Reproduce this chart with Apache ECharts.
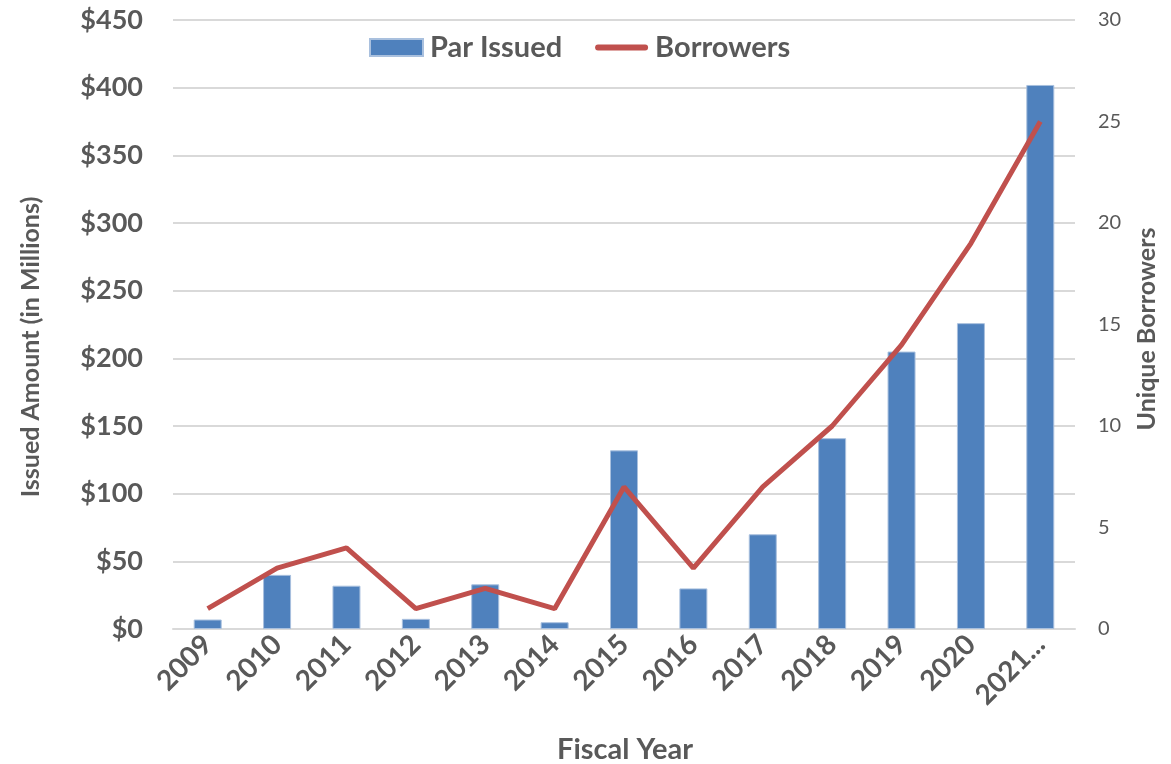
<!DOCTYPE html>
<html><head><meta charset="utf-8">
<script src="https://cdn.jsdelivr.net/npm/echarts@6/dist/echarts.min.js"></script>
<style>html,body{margin:0;padding:0;background:#fff}#c{width:1171px;height:764px}</style>
</head><body><div id="c"></div>
<script>
const categories = ['2009','2010','2011','2012','2013','2014','2015','2016','2017','2018','2019','2020','2021...'];
const parIssued = [7, 40, 32, 7.5, 33, 5, 132, 30, 70, 141, 205, 226, 402];
const borrowers = [1, 3, 4, 1, 2, 1, 7, 3, 7, 10, 14, 19, 25];
const leftTicks = [0, 450, 50];
const rightTicks = [0, 30, 5];

const FONT = 'Lato, "Open Sans", sans-serif';
const GRAY = '#595959';
const chart = echarts.init(document.getElementById('c'));
chart.setOption({
  animation: false,
  textStyle: {fontFamily: FONT},
  grid: {left: 173, right: 96, top: 20, bottom: 135},
  legend: {
    top: 33, left: 369, padding: 0, itemGap: 33, itemWidth: 53, itemHeight: 17,
    textStyle: {fontSize: 29, fontWeight: 'bold', color: GRAY, fontFamily: FONT, padding: [0, 0, 0, 2]},
    data: [
      {name: 'Par Issued', icon: 'rect'},
      {name: 'Borrowers', icon: 'path://M3,0 L52,0 A3,3 0 0 1 52,6 L3,6 A3,3 0 0 1 3,0 Z'}
    ]
  },
  xAxis: {
    type: 'category', data: categories,
    axisLine: {lineStyle: {color: '#d9d9d9', width: 2}},
    axisTick: {show: false},
    axisLabel: {rotate: 45, fontSize: 28, fontWeight: 'bold', color: GRAY, margin: 11, fontFamily: FONT}
  },
  yAxis: [{
    type: 'value', min: leftTicks[0], max: leftTicks[1], interval: leftTicks[2],
    axisLine: {show: false}, axisTick: {show: false},
    splitLine: {lineStyle: {color: '#d9d9d9', width: 2}},
    axisLabel: {formatter: v => '$' + v, fontSize: 27, fontWeight: 'bold', color: GRAY, margin: 30, fontFamily: FONT}
  }, {
    type: 'value', min: rightTicks[0], max: rightTicks[1], interval: rightTicks[2],
    axisLine: {show: false}, axisTick: {show: false}, splitLine: {show: false},
    axisLabel: {fontSize: 20, color: GRAY, margin: 23, fontFamily: FONT}
  }],
  series: [{
    name: 'Par Issued', type: 'bar', data: parIssued, barWidth: 28,
    itemStyle: {color: '#4f81bd', borderColor: '#a9c0de', borderWidth: 1}
  }, {
    name: 'Borrowers', type: 'line', yAxisIndex: 1, data: borrowers,
    symbol: 'none', lineStyle: {color: '#c0504d', width: 5}, itemStyle: {color: '#c0504d'}
  }],
  graphic: [
    {type: 'text', x: 31, y: 347, rotation: Math.PI/2,
     style: {text: 'Issued Amount (in Millions)', font: 'bold 25px ' + FONT, fill: GRAY, align: 'center', verticalAlign: 'middle'}},
    {type: 'text', x: 1147, y: 329, rotation: Math.PI/2,
     style: {text: 'Unique Borrowers', font: 'bold 25px ' + FONT, fill: GRAY, align: 'center', verticalAlign: 'middle'}},
    {type: 'text', x: 625, y: 750,
     style: {text: 'Fiscal Year', font: 'bold 29px ' + FONT, fill: GRAY, align: 'center', verticalAlign: 'middle'}}
  ]
});
</script></body></html>
